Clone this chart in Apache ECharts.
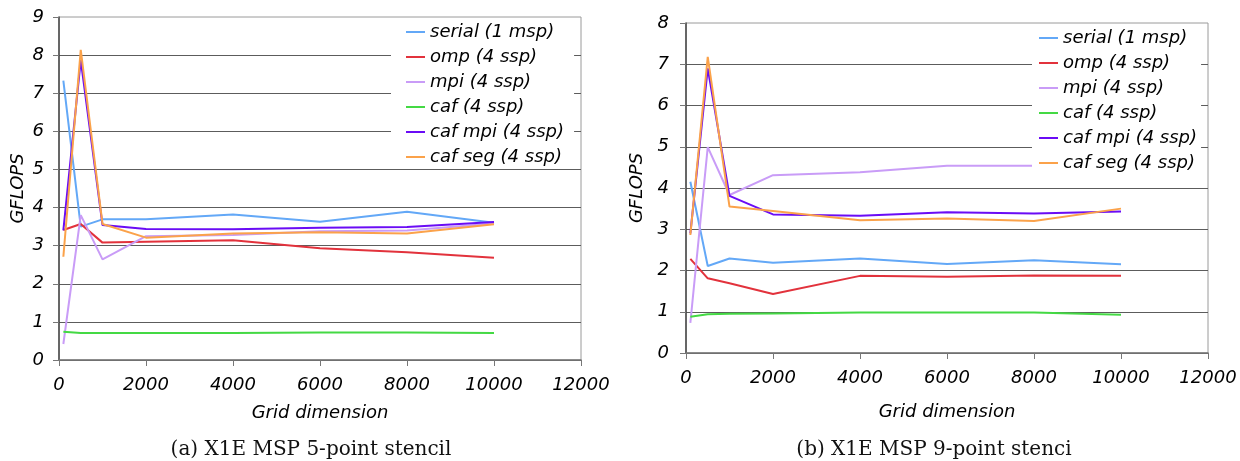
<!DOCTYPE html>
<html lang="en">
<head>
    <meta charset="utf-8">
    <title>X1E MSP stencil</title>
    <script src="https://cdn.jsdelivr.net/npm/echarts@6/dist/echarts.min.js"></script>
    <style>
        html, body { margin: 0; padding: 0; background: #fff; }
    </style>
</head>
<body>
<div id="main" style="width: 1240px;height:461px;"></div>

<script type="text/javascript">
    // grid dimension (x) shared by both plots
    var gridX = [100, 500, 1000, 2000, 4000, 6000, 8000, 10000];
    var names = ['serial (1 msp)', 'omp (4 ssp)', 'mpi (4 ssp)', 'caf (4 ssp)', 'caf mpi (4 ssp)', 'caf seg (4 ssp)'];
    var colors = ['#63a8f7', '#e2323c', '#c99cf7', '#44d944', '#6a0cf5', '#fba24a'];

    // (a) 5-point stencil, GFLOPS
    var serial5 = [7.33, 3.50, 3.69, 3.69, 3.82, 3.63, 3.89, 3.60];
    var omp5    = [3.41, 3.57, 3.08, 3.10, 3.14, 2.93, 2.83, 2.68];
    var mpi5    = [0.42, 3.80, 2.64, 3.25, 3.28, 3.38, 3.40, 3.58];
    var caf5    = [0.74, 0.71, 0.71, 0.71, 0.71, 0.72, 0.72, 0.71];
    var cafMpi5 = [3.40, 7.87, 3.54, 3.44, 3.43, 3.47, 3.49, 3.62];
    var cafSeg5 = [2.71, 8.14, 3.57, 3.21, 3.32, 3.35, 3.32, 3.56];

    // (b) 9-point stencil, GFLOPS
    var serial9 = [4.15, 2.11, 2.29, 2.19, 2.29, 2.16, 2.25, 2.15];
    var omp9    = [2.28, 1.81, 1.69, 1.43, 1.87, 1.85, 1.88, 1.87];
    var mpi9    = [0.73, 4.99, 3.83, 4.31, 4.38, 4.54, 4.54, 4.55];
    var caf9    = [0.88, 0.94, 0.95, 0.96, 0.98, 0.98, 0.98, 0.93];
    var cafMpi9 = [2.90, 6.90, 3.81, 3.36, 3.33, 3.41, 3.38, 3.43];
    var cafSeg9 = [2.86, 7.18, 3.55, 3.44, 3.22, 3.26, 3.20, 3.50];

    var xTicks = [0, 2000, 4000, 6000, 8000, 10000, 12000];

    var font = 'DejaVu Sans';
    var txt = { fontFamily: font, fontStyle: 'italic', fontSize: 18, color: '#000' };

    function pairs(ys) {
        return gridX.map(function (x, i) { return [x, ys[i]]; });
    }

    function xAxis(idx, gap) {
        return {
            type: 'value', gridIndex: idx,
            min: xTicks[0], max: xTicks[xTicks.length - 1], interval: 2000,
            name: 'Grid dimension', nameLocation: 'middle', nameGap: gap,
            nameTextStyle: txt,
            axisLine: { lineStyle: { color: '#777', width: 1.5 } },
            axisTick: { show: true, length: 6, lineStyle: { color: '#777' } },
            axisLabel: Object.assign({ margin: 16, formatter: function (v) { return String(v); } }, txt),
            splitLine: { show: false }
        };
    }

    function yAxis(idx, max, gap, margin) {
        return {
            type: 'value', gridIndex: idx, min: 0, max: max, interval: 1,
            name: 'GFLOPS', nameLocation: 'middle', nameGap: gap,
            nameTextStyle: txt,
            axisLine: { show: true, lineStyle: { color: '#444', width: 1.5 } },
            axisTick: { show: true, length: 6, lineStyle: { color: '#777' } },
            axisLabel: Object.assign({ margin: margin }, txt),
            splitLine: { show: true, showMaxLine: false, lineStyle: { color: '#5c5c5c', width: 1 } }
        };
    }

    function legend(left, top, pad) {
        return {
            data: names, orient: 'vertical', left: left, top: top,
            padding: pad, itemWidth: 19, itemHeight: 18, itemGap: 7,
            backgroundColor: '#fff', textStyle: txt,
            itemStyle: { opacity: 0, borderWidth: 0 },
            lineStyle: { width: 2 },
            selectedMode: false
        };
    }

    var sets = [
        [serial5, omp5, mpi5, caf5, cafMpi5, cafSeg5],
        [serial9, omp9, mpi9, caf9, cafMpi9, cafSeg9]
    ];

    var series = [];
    sets.forEach(function (set, g) {
        set.forEach(function (ys, i) {
            series.push({
                name: names[i], type: 'line',
                xAxisIndex: g, yAxisIndex: g,
                data: pairs(ys),
                symbol: 'none', silent: true, animation: false,
                lineStyle: { color: colors[i], width: 2 },
                itemStyle: { color: colors[i] }
            });
        });
    });

    var myChart = echarts.init(document.getElementById('main'));

    option = {
        backgroundColor: '#fff',
        animation: false,
        grid: [
            { left: 59, right: 659, top: 17, bottom: 101, show: true, borderColor: '#9a9a9a', borderWidth: 1 },
            { left: 686, right: 32, top: 23, bottom: 108, show: true, borderColor: '#9a9a9a', borderWidth: 1 }
        ],
        xAxis: [xAxis(0, 44), xAxis(1, 50)],
        yAxis: [yAxis(0, 9, 32, 15), yAxis(1, 8, 40, 17)],
        legend: [
            legend(391, 20, [3, 10, 1, 14]),
            legend(1032, 26, [3, 4, 1, 6])
        ],
        graphic: [
            { type: 'text', x: 311, y: 450, style: { text: '(a) X1E MSP 5-point stencil', font: '20px "DejaVu Serif"', fill: '#111', textAlign: 'center', textVerticalAlign: 'middle' } },
            { type: 'text', x: 934, y: 450, style: { text: '(b) X1E MSP 9-point stenci', font: '20px "DejaVu Serif"', fill: '#111', textAlign: 'center', textVerticalAlign: 'middle' } }
        ],
        series: series
    };

    myChart.setOption(option);
</script>
</body>
</html>
